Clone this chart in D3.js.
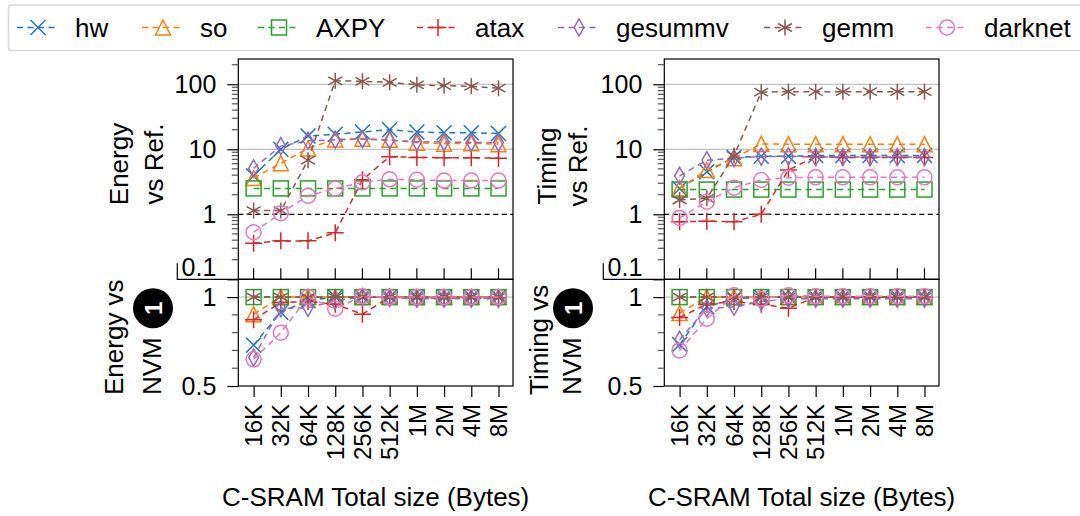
<!DOCTYPE html>
<html><head><meta charset="utf-8">
<script src="https://cdn.jsdelivr.net/npm/d3@7"></script>
<style>body{margin:0;background:#fff}svg{display:block}text{font-family:"Liberation Sans",Arial,sans-serif;fill:#000}</style>
</head><body>
<script>
const categories = ["16K","32K","64K","128K","256K","512K","1M","2M","4M","8M"];
const seriesNames = ["hw","so","AXPY","atax","gesummv","gemm","darknet"];
const seriesColors = ["#1f77b4","#ff7f0e","#2ca02c","#d62728","#9467bd","#8c564b","#e377c2"];
const seriesMarkers = ["x","tri","square","plus","diamond","star","circle"];

// Energy vs Ref. (series in seriesNames order)
const energyVsRef = [
  [3.9, 10, 16, 17, 18.5, 20, 18.5, 18, 18, 17.5],
  [3.6, 6.1, 10.3, 14.2, 14.5, 14, 12.6, 12.2, 12.4, 12],
  [2.5, 2.5, 2.5, 2.5, 2.5, 2.5, 2.5, 2.5, 2.5, 2.5],
  [0.36, 0.39, 0.39, 0.52, 3.4, 7.7, 7.5, 7.4, 7.4, 7.3],
  [5.1, 11.2, 13.5, 14, 14.3, 13.8, 13, 13, 12.7, 12.7],
  [1.14, 1.14, 6.8, 113, 111, 107, 98, 95, 93, 87],
  [0.53, 1.04, 1.93, 2.5, 3.1, 3.45, 3.4, 3.3, 3.3, 3.3]
];
// Energy vs NVM 1
const energyVsNvm = [
  [0.73, 0.915, 0.98, 1, 1, 1, 1, 1, 1, 1],
  [0.904, 1, 1, 1, 1, 1, 1, 1, 1, 1],
  [1, 1, 1, 1, 1, 1, 1, 1, 1, 1],
  [0.872, 0.97, 0.975, 0.96, 0.904, 1, 0.995, 0.995, 0.995, 0.995],
  [0.66, 0.937, 0.94, 0.98, 1, 0.995, 0.99, 0.99, 0.99, 0.99],
  [1, 1, 1, 1, 1, 1, 1, 1, 1, 1],
  [0.65, 0.8, 1, 0.935, 1.005, 1, 1, 1, 1, 1]
];
// Timing vs Ref.
const timingVsRef = [
  [2.5, 4.5, 7.5, 7.8, 7.8, 8, 8, 8, 8, 8],
  [2.5, 4.8, 7.3, 12.1, 12, 12, 12, 12, 12, 12],
  [2.4, 2.4, 2.4, 2.4, 2.4, 2.4, 2.4, 2.4, 2.4, 2.4],
  [0.77, 0.78, 0.77, 1.0, 4.8, 7.7, 7.5, 7.5, 7.5, 7.5],
  [3.9, 6.8, 7.3, 7.7, 7.8, 7.6, 7.6, 7.6, 7.6, 7.6],
  [1.66, 1.76, 8, 75.5, 77, 77, 77, 77, 77, 77],
  [0.88, 1.56, 2.57, 3.37, 3.65, 3.7, 3.7, 3.7, 3.7, 3.7]
];
// Timing vs NVM 1
const timingVsNvm = [
  [0.733, 0.946, 0.99, 1, 1, 1, 1, 1, 1, 1],
  [0.91, 1, 1, 1, 1, 1, 1, 1, 1, 1],
  [1, 1, 1, 1, 1, 1, 1, 1, 1, 1],
  [0.885, 0.96, 0.975, 0.96, 0.937, 1, 1, 1, 1, 1],
  [0.76, 0.937, 0.945, 0.975, 0.99, 0.99, 0.99, 0.99, 0.99, 0.99],
  [1, 1, 1, 1, 1, 1, 1, 1, 1, 1],
  [0.70, 0.878, 1.01, 0.99, 1.01, 1.005, 1.005, 1.005, 1.005, 1.005]
];
const topTicks = [0.1, 1, 10, 100];
const topTickLabels = ["0.1", "1", "10", "100"];
const botTicks = [0.5, 1];
const botTickLabels = ["0.5", "1"];
const xTitle = "C-SRAM Total size (Bytes)";

const W = 1080, H = 516;
const svg = d3.select("body").append("svg").attr("width", W).attr("height", H);

function marker(g, type, x, y, color) {
  const s = g.append("g").attr("transform", `translate(${x},${y})`)
    .attr("fill", "none").attr("stroke", color).attr("stroke-width", 1.5);
  const r = 7.5;
  if (type === "x") {
    s.append("path").attr("d", `M${-r},${-r}L${r},${r}M${-r},${r}L${r},${-r}`);
  } else if (type === "tri") {
    s.append("path").attr("d", `M0,${-r}L${r},${r}L${-r},${r}Z`);
  } else if (type === "square") {
    s.append("rect").attr("x", -r).attr("y", -r).attr("width", 2 * r).attr("height", 2 * r);
  } else if (type === "plus") {
    s.append("path").attr("d", `M${-r - 1},0L${r + 1},0M0,${-r - 1}L0,${r + 1}`);
  } else if (type === "diamond") {
    s.append("path").attr("d", `M0,${-r - 1}L${r * 0.65},0L0,${r + 1}L${-r * 0.65},0Z`);
  } else if (type === "star") {
    let d = "";
    for (let k = 0; k < 3; k++) {
      const a = Math.PI / 2 + k * Math.PI / 3;
      const dx = Math.cos(a) * (r + 0.5), dy = Math.sin(a) * (r + 0.5);
      d += `M${-dx},${-dy}L${dx},${dy}`;
    }
    s.append("path").attr("d", d);
  } else if (type === "circle") {
    s.append("circle").attr("r", r);
  }
}

function panelPair(left, right, dataTop, dataBot, labTop, labBot) {
  const topY0 = 58.4, topY1 = 279.3, botY1 = 386;
  const x = d3.scalePoint().domain(categories).range([left + 15.3, right - 14.5]);
  const yT = d3.scaleLog().domain([0.1, 250]).range([topY1, topY0]);
  const yB = d3.scaleLinear().domain([0.5, 1.1]).range([botY1, topY1]);
  const g = svg.append("g");

  // grid lines
  [10, 100].forEach(v => g.append("line").attr("x1", left).attr("x2", right)
    .attr("y1", yT(v)).attr("y2", yT(v)).attr("stroke", "#b0b0b0").attr("stroke-width", 1));
  g.append("line").attr("x1", left).attr("x2", right).attr("y1", yB(1)).attr("y2", yB(1))
    .attr("stroke", "#b0b0b0").attr("stroke-width", 1);
  g.append("line").attr("x1", left).attr("x2", right).attr("y1", yT(1)).attr("y2", yT(1))
    .attr("stroke", "#000").attr("stroke-width", 1.2).attr("stroke-dasharray", "5,3.5");

  // series
  function drawSeries(data, y) {
    data.forEach((vals, i) => {
      const line = d3.line().x((d, j) => x(categories[j])).y(d => y(d));
      g.append("path").attr("d", line(vals)).attr("fill", "none")
        .attr("stroke", seriesColors[i]).attr("stroke-width", 1.5).attr("stroke-dasharray", "6,4.5");
      vals.forEach((v, j) => marker(g, seriesMarkers[i], x(categories[j]), y(v), seriesColors[i]));
    });
  }
  drawSeries(dataTop, yT);
  drawSeries(dataBot, yB);

  // frames
  g.append("rect").attr("x", left).attr("y", topY0 + 0.6).attr("width", right - left).attr("height", topY1 - topY0 - 0.6)
    .attr("fill", "none").attr("stroke", "#000").attr("stroke-width", 1.2);
  g.append("rect").attr("x", left).attr("y", topY1).attr("width", right - left).attr("height", botY1 - topY1)
    .attr("fill", "none").attr("stroke", "#000").attr("stroke-width", 1.2);

  // top-panel y axis (log)
  const axT = d3.axisLeft(yT).tickValues(topTicks).tickSize(11).tickFormat(() => "");
  const gaT = g.append("g").attr("transform", `translate(${left},0)`).call(axT);
  gaT.select(".domain").remove();
  gaT.selectAll("line").attr("stroke", "#000").attr("stroke-width", 1.2);
  const minors = [];
  [0.1, 1, 10, 100].forEach(dec => { for (let k = 2; k <= 9; k++) { const v = dec * k; if (v <= 250) minors.push(v); } });
  minors.forEach(v => g.append("line").attr("x1", left - 6.5).attr("x2", left).attr("y1", yT(v)).attr("y2", yT(v))
    .attr("stroke", "#555").attr("stroke-width", 1.2));
  topTicks.forEach((v, i) => {
    const yy = v === 0.1 ? yT(v) - 12 : yT(v);
    g.append("text").attr("x", left - 22).attr("y", yy).attr("dy", "0.36em").attr("text-anchor", "end")
      .attr("font-size", 25).text(topTickLabels[i]);
  });
  // small bracket artifact left of 0.1
  g.append("path").attr("d", `M${left - 61},${topY1 - 16}L${left - 61},${topY1}L${left},${topY1}`)
    .attr("fill", "none").attr("stroke", "#000").attr("stroke-width", 1.2);

  // x ticks at bottom of top panel (pointing up)
  categories.forEach(c => g.append("line").attr("x1", x(c)).attr("x2", x(c)).attr("y1", topY1).attr("y2", topY1 - 11)
    .attr("stroke", "#000").attr("stroke-width", 1.2));

  // bottom-panel y axis
  const axB = d3.axisLeft(yB).tickValues(botTicks).tickSize(11).tickFormat(() => "");
  const gaB = g.append("g").attr("transform", `translate(${left},0)`).call(axB);
  gaB.select(".domain").remove();
  gaB.selectAll("line").attr("stroke", "#000").attr("stroke-width", 1.2);
  [0.6, 0.7, 0.8, 0.9].forEach(v => g.append("line").attr("x1", left - 6.5).attr("x2", left).attr("y1", yB(v)).attr("y2", yB(v))
    .attr("stroke", "#555").attr("stroke-width", 1.2));
  botTicks.forEach((v, i) => g.append("text").attr("x", left - 22).attr("y", yB(v)).attr("dy", "0.36em")
    .attr("text-anchor", "end").attr("font-size", 25).text(botTickLabels[i]));

  // x axis
  const axX = d3.axisBottom(x).tickSize(11).tickFormat(() => "");
  const gaX = g.append("g").attr("transform", `translate(0,${botY1})`).call(axX);
  gaX.select(".domain").remove();
  gaX.selectAll("line").attr("stroke", "#000").attr("stroke-width", 1.2);
  categories.forEach(c => g.append("text").attr("transform", `translate(${x(c)},${botY1 + 18}) rotate(-90)`)
    .attr("text-anchor", "end").attr("dy", "0.36em").attr("font-size", 24).text(c));

  // x title
  g.append("text").attr("x", (left + right) / 2).attr("y", 497).attr("dy", "0.36em").attr("text-anchor", "middle")
    .attr("font-size", 26).text(xTitle);

  // y labels
  const lt = labTop, lb = labBot;
  lt.lines.forEach((t, k) => g.append("text").attr("transform", `translate(${lt.cx[k]},${lt.yMid}) rotate(-90)`)
    .attr("text-anchor", "middle").attr("dy", "0.36em").attr("font-size", 26).text(t));
  g.append("text").attr("transform", `translate(${lb.cx[0]},${lb.yStart}) rotate(-90)`)
    .attr("text-anchor", "start").attr("dy", "0.36em").attr("font-size", 26).text(lb.lines[0]);
  const nvm = g.append("text").attr("transform", `translate(${lb.cx[1]},${lb.yStart}) rotate(-90)`)
    .attr("text-anchor", "start").attr("dy", "0.36em").attr("font-size", 26).text(lb.lines[1]);
  const wN = nvm.node().getComputedTextLength();
  const rr = 20;
  const cy = lb.yStart - wN - 9 - rr;
  g.append("circle").attr("cx", lb.cx[1] + 1).attr("cy", cy).attr("r", rr).attr("fill", "#000");
  g.append("text").attr("transform", `translate(${lb.cx[1] + 1},${cy}) rotate(-90)`).attr("text-anchor", "middle")
    .attr("dy", "0.36em").attr("font-size", 24).attr("font-weight", "bold").style("fill", "#fff").text("1");
}

panelPair(238.3, 513, energyVsRef, energyVsNvm,
  { lines: ["Energy", "vs Ref."], cx: [119, 154], yMid: 164 },
  { lines: ["Energy vs", "NVM"], cx: [114, 152], yStart: 395 });
panelPair(664.3, 939, timingVsRef, timingVsNvm,
  { lines: ["Timing", "vs Ref."], cx: [547, 578], yMid: 166 },
  { lines: ["Timing vs", "NVM"], cx: [539, 572], yStart: 395 });

// legend
const legendX = [17, 142, 258, 417, 558, 764, 926];
const legY = 27.5;
const lg = svg.append("g");
lg.append("rect").attr("x", 8.5).attr("y", 5).attr("width", 1090).attr("height", 45.5).attr("rx", 3)
  .attr("fill", "#fff").attr("stroke", "#d9d9d9").attr("stroke-width", 1.5);
seriesNames.forEach((n, i) => {
  const x0 = legendX[i];
  lg.append("line").attr("x1", x0).attr("x2", x0 + 41).attr("y1", legY).attr("y2", legY)
    .attr("stroke", seriesColors[i]).attr("stroke-width", 1.5).attr("stroke-dasharray", "6,4.5");
  marker(lg, seriesMarkers[i], x0 + 21, legY, seriesColors[i]);
  lg.append("text").attr("x", x0 + 58).attr("y", legY).attr("dy", "0.36em").attr("font-size", 26).text(n);
});
</script>
</body></html>
